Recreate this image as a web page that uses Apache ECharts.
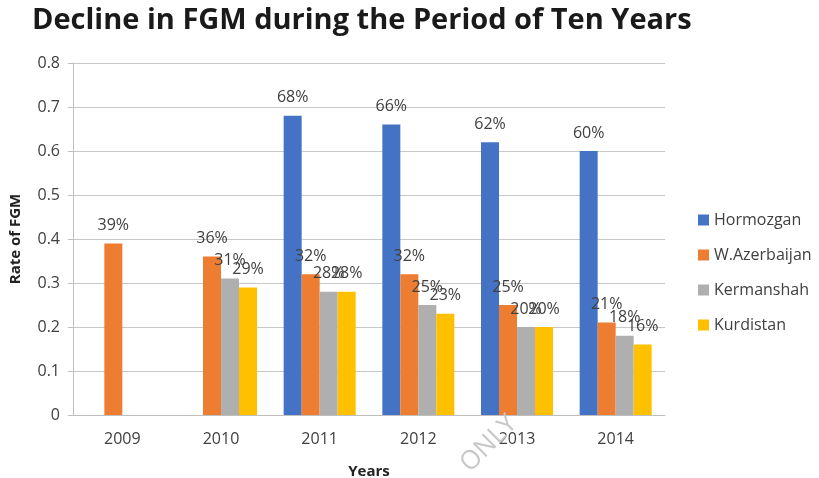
<!DOCTYPE html>
<html>
<head>
<meta charset="utf-8">
<script src="https://cdn.jsdelivr.net/npm/echarts@6/dist/echarts.min.js"></script>
<style>
  html, body { margin: 0; padding: 0; background: #fff; }
  #chart { width: 819px; height: 478px; }
</style>
</head>
<body>
<div id="chart"></div>
<script>
var years = ['2009', '2010', '2011', '2012', '2013', '2014'];
var hormozgan = [null, null, 0.68, 0.66, 0.62, 0.60];
var wAzerbaijan = [0.39, 0.36, 0.32, 0.32, 0.25, 0.21];
var kermanshah = [null, 0.31, 0.28, 0.25, 0.20, 0.18];
var kurdistan = [null, 0.29, 0.28, 0.23, 0.20, 0.16];
var yTicks = [0, 0.1, 0.2, 0.3, 0.4, 0.5, 0.6, 0.7, 0.8];

var chart = echarts.init(document.getElementById('chart'));

function pct(p) {
  return Math.round(p.value * 100) + '%';
}

function makeSeries(name, data, color) {
  return {
    name: name,
    type: 'bar',
    data: data,
    barWidth: 18,
    barGap: '0%',
    itemStyle: { color: color },
    label: {
      show: true,
      position: 'top',
      distance: 10,
      formatter: pct,
      color: '#404040',
      fontSize: 16,
      fontFamily: 'Open Sans'
    }
  };
}

var option = {
  backgroundColor: '#fff',
  title: {
    text: 'Decline in FGM during the Period of Ten Years',
    left: 27,
    top: 1,
    textStyle: {
      fontFamily: 'Open Sans',
      fontWeight: 'bold',
      fontSize: 29,
      color: '#1a1a1a'
    }
  },
  legend: {
    orient: 'vertical',
    left: 693,
    top: 207,
    itemWidth: 11,
    itemHeight: 11,
    itemGap: 19,
    icon: 'rect',
    textStyle: { fontSize: 16, color: '#404040', fontFamily: 'Open Sans' },
    data: ['Hormozgan', 'W.Azerbaijan', 'Kermanshah', 'Kurdistan']
  },
  grid: {
    left: 73,
    right: 154,
    top: 63,
    bottom: 63,
    containLabel: false,
    outerBoundsMode: 'none'
  },
  xAxis: {
    type: 'category',
    data: years,
    name: 'Years',
    nameLocation: 'middle',
    nameGap: 49,
    nameTextStyle: { fontWeight: 'bold', fontSize: 15, color: '#222', fontFamily: 'Open Sans' },
    axisLine: { lineStyle: { color: '#bfbfbf' } },
    axisTick: { show: false },
    axisLabel: { fontSize: 16, color: '#404040', margin: 16, fontFamily: 'Open Sans' }
  },
  yAxis: {
    type: 'value',
    min: yTicks[0],
    max: yTicks[yTicks.length - 1],
    interval: 0.1,
    name: 'Rate of FGM',
    nameLocation: 'middle',
    nameGap: 50,
    nameTextStyle: { fontWeight: 'bold', fontSize: 15, color: '#222', fontFamily: 'Open Sans' },
    axisLine: { show: true, lineStyle: { color: '#bfbfbf' } },
    axisTick: { show: true, length: 5, lineStyle: { color: '#bfbfbf' } },
    axisLabel: {
      fontSize: 16,
      color: '#404040',
      margin: 13,
      fontFamily: 'Open Sans',
      formatter: function (v) { return String(Math.round(v * 10) / 10); }
    },
    splitLine: { lineStyle: { color: '#c8c8c8' } }
  },
  graphic: [{
    type: 'text',
    x: 474,
    y: 477,
    rotation: Math.PI / 4,
    style: {
      text: 'ONLY',
      fontSize: 26,
      fontFamily: 'Open Sans',
      fill: '#c8c8c8',
      textVerticalAlign: 'bottom'
    },
    z: 100
  }],
  series: [
    makeSeries('Hormozgan', hormozgan, '#4472c4'),
    makeSeries('W.Azerbaijan', wAzerbaijan, '#ed7d31'),
    makeSeries('Kermanshah', kermanshah, '#afafaf'),
    makeSeries('Kurdistan', kurdistan, '#ffc000')
  ]
};

chart.setOption(option);
</script>
</body>
</html>
